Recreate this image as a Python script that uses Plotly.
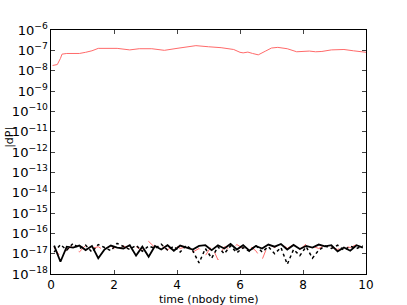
import plotly.graph_objects as go

# Top (red) series: |dP| of a drifting quantity
t_top = [0.05, 0.2, 0.3, 0.35, 0.5, 0.9, 1.1, 1.3, 1.5, 2.1, 2.5, 2.8, 3.2, 3.6, 4.0, 4.3,
         4.6, 5.0, 5.4, 5.8, 6.0, 6.1, 6.25, 6.4, 6.58, 6.8, 7.0, 7.2, 7.5, 7.8, 8.2, 8.4,
         8.6, 8.9, 9.3, 9.6, 10.0]
dp_top = [1.8e-8, 2.0e-8, 4.0e-8, 6.5e-8, 7.0e-8, 7.0e-8, 8.0e-8, 9.5e-8, 1.25e-7, 1.25e-7,
          1.05e-7, 1.2e-7, 1.2e-7, 1.0e-7, 1.25e-7, 1.4e-7, 1.7e-7, 1.5e-7, 1.35e-7, 1.1e-7,
          8.0e-8, 7.5e-8, 8.2e-8, 7.0e-8, 6.0e-8, 9.0e-8, 1.3e-7, 1.4e-7, 1.2e-7, 8.5e-8,
          9.2e-8, 8.5e-8, 8.8e-8, 1.05e-7, 1.1e-7, 9.5e-8, 8.0e-8]

# Noise-level series
t_noise = [0.1, 0.3, 0.5, 0.7, 0.9, 1.1, 1.3, 1.5, 1.7, 1.9, 2.1, 2.3, 2.5, 2.7, 2.9, 3.1,
           3.3, 3.5, 3.7, 3.9, 4.1, 4.3, 4.5, 4.7, 4.9, 5.1, 5.3, 5.5, 5.7, 5.9, 6.1, 6.3,
           6.5, 6.7, 6.9, 7.1, 7.3, 7.5, 7.7, 7.9, 8.1, 8.3, 8.5, 8.7, 8.9, 9.1, 9.3, 9.5,
           9.7, 9.9]
dp_black_solid = [2.5e-17, 0.4e-17, 2.2e-17, 2.0e-17, 2.5e-17, 1.5e-17, 2.4e-17, 0.6e-17,
                  1.6e-17, 2.5e-17, 2.0e-17, 1.8e-17, 2.6e-17, 0.8e-17, 2.2e-17, 0.7e-17,
                  2.4e-17, 1.6e-17, 2.6e-17, 1.4e-17, 2.5e-17, 2.0e-17, 1.6e-17, 2.4e-17,
                  2.6e-17, 1.5e-17, 2.6e-17, 1.8e-17, 3.0e-17, 1.6e-17, 2.6e-17, 1.4e-17,
                  2.4e-17, 1.8e-17, 2.8e-17, 2.2e-17, 3.0e-17, 1.6e-17, 2.7e-17, 1.7e-17,
                  2.4e-17, 2.0e-17, 2.8e-17, 2.3e-17, 2.6e-17, 1.3e-17, 2.0e-17, 1.4e-17,
                  2.6e-17, 2.0e-17]
dp_black_dashdot = [1.2e-17, 2.8e-17, 1.5e-17, 3.2e-17, 1.8e-17, 2.6e-17, 1.2e-17, 2.8e-17,
                    2.0e-17, 1.4e-17, 3.2e-17, 2.2e-17, 1.6e-17, 2.6e-17, 1.3e-17, 2.4e-17,
                    1.8e-17, 2.9e-17, 1.5e-17, 2.3e-17, 1.2e-17, 2.6e-17, 1.4e-17, 0.35e-17,
                    1.8e-17, 0.6e-17, 2.2e-17, 1.0e-17, 2.4e-17, 1.1e-17, 2.0e-17, 1.3e-17,
                    2.6e-17, 1.2e-17, 2.2e-17, 1.0e-17, 2.0e-17, 0.3e-17, 1.6e-17, 0.8e-17,
                    2.2e-17, 0.6e-17, 1.5e-17, 2.4e-17, 1.8e-17, 2.6e-17, 1.5e-17, 2.3e-17,
                    1.8e-17, 2.4e-17]
dp_red_dashed = [2.0e-17, 0.7e-17, 1.6e-17, 2.4e-17, 1.2e-17, 2.6e-17, 1.8e-17, 2.2e-17,
                 1.4e-17, 2.6e-17, 1.2e-17, 2.4e-17, 1.6e-17, 2.2e-17, 1.4e-17, 4.0e-17,
                 2.0e-17, 2.6e-17, 1.5e-17, 2.8e-17, 1.8e-17, 2.2e-17, 1.2e-17, 1.8e-17,
                 0.8e-17, 2.4e-17, 0.5e-17, 2.2e-17, 1.6e-17, 2.8e-17, 1.8e-17, 2.4e-17,
                 1.4e-17, 0.5e-17, 3.0e-17, 2.0e-17, 3.4e-17, 1.8e-17, 2.8e-17, 1.6e-17,
                 3.0e-17, 2.4e-17, 1.8e-17, 2.6e-17, 2.2e-17, 1.6e-17, 2.4e-17, 2.0e-17,
                 2.8e-17, 1.8e-17]

x_ticks = [0, 2, 4, 6, 8, 10]

fig = go.Figure()
fig.add_trace(go.Scatter(x=t_top, y=dp_top, mode="lines",
                         line=dict(color="#ff6a6a", width=1)))
fig.add_trace(go.Scatter(x=t_noise, y=dp_red_dashed, mode="lines",
                         line=dict(color="#ff6a6a", width=1, dash="dash")))
fig.add_trace(go.Scatter(x=t_noise, y=dp_black_dashdot, mode="lines",
                         line=dict(color="black", width=1.5, dash="dot")))
fig.add_trace(go.Scatter(x=t_noise, y=dp_black_solid, mode="lines",
                         line=dict(color="black", width=1.8)))

font = dict(family="DejaVu Sans", size=12, color="black")
fig.update_layout(
    width=407, height=305,
    margin=dict(l=51, r=41, t=30, b=31),
    paper_bgcolor="white", plot_bgcolor="white",
    showlegend=False,
    font=font,
    xaxis=dict(range=[0, 10], tickvals=x_ticks, ticks="inside", ticklen=4,
               showgrid=False, zeroline=False, showline=True, linecolor="black",
               linewidth=1, mirror="ticks", automargin=False,
               tickfont=dict(size=12)),
    yaxis=dict(type="log", range=[-18, -6], dtick=1, exponentformat="power",
               ticks="inside", ticklen=4, showgrid=False, zeroline=False,
               showline=True, linecolor="black", linewidth=1, mirror="ticks",
               automargin=False, tickfont=dict(size=10.5)),
    annotations=[
        dict(text="|dP|", xref="paper", yref="paper", x=0, y=0.56,
             xanchor="left", yanchor="middle", textangle=-90,
             xshift=-50, showarrow=False, font=dict(size=11)),
        dict(text="time (nbody time)", xref="paper", yref="paper", x=0.5, y=0,
             xanchor="center", yanchor="middle", yshift=-25,
             showarrow=False, font=dict(size=11)),
    ],
)
fig.write_html("out.html", config={"displayModeBar": False},
               post_script="document.body.style.margin='0px';")
